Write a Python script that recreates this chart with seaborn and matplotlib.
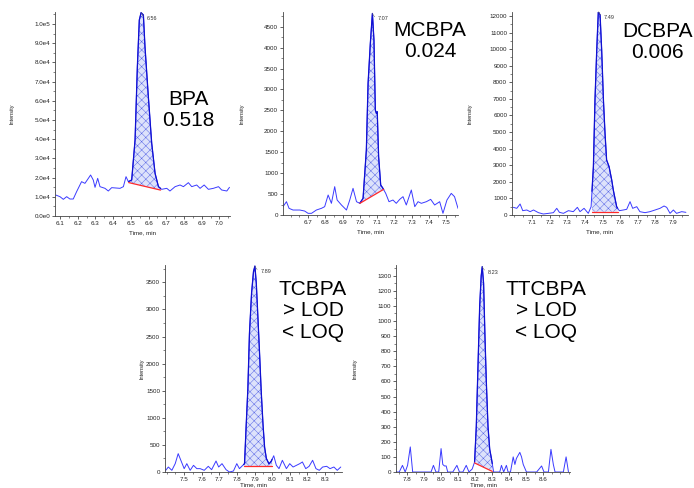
import numpy as np
import pandas as pd
import matplotlib
matplotlib.use('Agg')
import matplotlib.pyplot as plt
from matplotlib.ticker import FuncFormatter, AutoMinorLocator
import seaborn as sns

sns.set_style('ticks')
plt.rcParams['font.family'] = ['Liberation Sans', 'DejaVu Sans']
plt.rcParams['hatch.linewidth'] = 0.35
plt.rcParams['hatch.color'] = '#5a68e6'

# BPA
bpa_t = [6.077, 6.100, 6.119, 6.138, 6.156, 6.175, 6.194, 6.222, 6.241, 6.254, 6.273, 6.288, 6.298,
         6.313, 6.326, 6.354, 6.373, 6.392, 6.439, 6.458, 6.473, 6.486, 6.505, 6.524, 6.537, 6.548,
         6.558, 6.571, 6.580, 6.599, 6.618, 6.637, 6.656, 6.674, 6.703, 6.721, 6.750, 6.778, 6.797,
         6.825, 6.844, 6.872, 6.891, 6.914, 6.938, 6.966, 6.995, 7.013, 7.042, 7.057]
bpa_i = [10900, 10070, 8680, 10070, 8850, 8850, 12670, 17880, 17010, 18750, 21350, 18750, 14930,
         19620, 15280, 14410, 13020, 14760, 14410, 15280, 20490, 17880, 18750, 39580, 77780, 102080,
         105900, 104690, 88190, 62150, 37850, 22220, 15280, 13890, 14410, 13020, 15280, 16150, 15280,
         17360, 15280, 16150, 14410, 16150, 13890, 14410, 15280, 13540, 13020, 14930]

# MCBPA
mcbpa_t = [6.555, 6.575, 6.590, 6.613, 6.652, 6.680, 6.700, 6.720, 6.748, 6.777, 6.796, 6.816, 6.835,
           6.854, 6.868, 6.893, 6.922, 6.941, 6.960, 6.980, 6.999, 7.018, 7.037, 7.047, 7.060, 7.072,
           7.081, 7.089, 7.095, 7.100, 7.108, 7.120, 7.133, 7.149, 7.168, 7.191, 7.210, 7.230, 7.249,
           7.268, 7.297, 7.317, 7.336, 7.355, 7.384, 7.409, 7.432, 7.461, 7.480, 7.503, 7.528, 7.547, 7.567]
mcbpa_i = [199, 318, 159, 119, 119, 95, 40, 40, 119, 159, 199, 478, 279,
           677, 358, 239, 119, 358, 637, 318, 279, 398, 1553, 3145, 4100, 4817,
           4180, 2508, 2428, 2468, 1393, 716, 637, 517, 318, 358, 279, 374, 438,
           239, 597, 199, 318, 279, 318, 374, 239, 318, 40, 358, 517, 438, 159]

# DCBPA
dcbpa_t = [6.994, 7.013, 7.032, 7.047, 7.070, 7.089, 7.108, 7.136, 7.164, 7.193, 7.221, 7.240, 7.255,
           7.278, 7.306, 7.334, 7.357, 7.372, 7.395, 7.419, 7.435, 7.448, 7.457, 7.467, 7.476, 7.486,
           7.495, 7.505, 7.514, 7.523, 7.537, 7.552, 7.561, 7.580, 7.595, 7.618, 7.637, 7.656, 7.671,
           7.694, 7.712, 7.741, 7.769, 7.798, 7.826, 7.849, 7.864, 7.883, 7.902, 7.920, 7.949, 7.973]
dcbpa_i = [462, 402, 663, 261, 302, 201, 302, 141, 60, 100, 141, 402, 161,
           100, 261, 201, 462, 201, 402, 100, 502, 2915, 6935, 9950, 12261, 12060,
           9950, 6935, 4925, 3317, 2915, 2111, 1508, 502, 261, 302, 342, 804, 402,
           502, 201, 141, 201, 302, 402, 543, 462, 100, 302, 100, 201, 161]

# TCBPA
tcbpa_t = [7.395, 7.410, 7.430, 7.449, 7.466, 7.481, 7.500, 7.515, 7.534, 7.553, 7.572, 7.591, 7.614,
           7.637, 7.656, 7.681, 7.696, 7.715, 7.738, 7.757, 7.780, 7.799, 7.814, 7.833, 7.843, 7.852,
           7.862, 7.871, 7.883, 7.894, 7.902, 7.910, 7.919, 7.929, 7.938, 7.948, 7.957, 7.967, 7.982,
           7.995, 8.009, 8.024, 8.039, 8.058, 8.081, 8.100, 8.119, 8.138, 8.157, 8.172, 8.191, 8.210,
           8.230, 8.249, 8.268, 8.287, 8.310, 8.329, 8.351, 8.370, 8.390]
tcbpa_i = [31, 92, 31, 154, 339, 216, 62, 154, 31, 123, 62, 62, 31,
           105, 43, 203, 92, 154, 43, 0, 18, 154, 62, 123, 154, 832,
           1540, 2557, 3300, 3700, 3800, 3480, 2860, 2150, 1480, 880, 460, 250, 150,
           200, 300, 123, 62, 216, 62, 154, 92, 123, 154, 185, 62, 105,
           216, 62, 31, 92, 105, 62, 92, 31, 92]

# TTCBPA
ttcbpa_t = [7.733, 7.753, 7.772, 7.788, 7.802, 7.818, 7.832, 7.851, 7.910, 7.940, 7.954, 7.969, 7.985,
            7.999, 8.009, 8.019, 8.029, 8.038, 8.068, 8.092, 8.107, 8.127, 8.147, 8.163, 8.182, 8.196,
            8.206, 8.216, 8.226, 8.235, 8.241, 8.249, 8.257, 8.265, 8.275, 8.285, 8.295, 8.308, 8.324,
            8.344, 8.354, 8.367, 8.383, 8.393, 8.407, 8.423, 8.433, 8.442, 8.462, 8.472, 8.482, 8.501,
            8.561, 8.590, 8.604, 8.630, 8.645, 8.659, 8.669, 8.718, 8.734, 8.748]
ttcbpa_i = [0, 0, 44, 0, 44, 166, 0, 0, 0, 0, 44, 0, 0,
            155, 50, 40, 40, 0, 0, 44, 0, 0, 44, 0, 20, 66,
            300, 700, 1100, 1300, 1360, 1250, 900, 600, 300, 150, 90, 0, 0,
            0, 44, 0, 44, 0, 0, 100, 50, 90, 130, 100, 50, 0,
            0, 40, 0, 0, 150, 50, 0, 0, 100, 0]

names = ['BPA', 'MCBPA', 'DCBPA', 'TCBPA', 'TTCBPA']
results = ['BPA\n0.518', 'MCBPA\n0.024', 'DCBPA\n0.006', 'TCBPA\n> LOD\n< LOQ', 'TTCBPA\n> LOD\n< LOQ']
apex_labels = ['6.56', '7.07', '7.49', '7.89', '8.23']
# integration window: start, end, baseline at start, baseline at end
peak_start = [6.488, 7.000, 7.440, 7.838, 8.196]
peak_end = [6.668, 7.137, 7.585, 8.000, 8.300]
base_start = [17400, 280, 200, 105, 60]
base_end = [13500, 613, 200, 105, 4]
xticks = [[6.1, 6.2, 6.3, 6.4, 6.5, 6.6, 6.7, 6.8, 6.9, 7.0],
          [6.7, 6.8, 6.9, 7.0, 7.1, 7.2, 7.3, 7.4, 7.5],
          [7.1, 7.2, 7.3, 7.4, 7.5, 7.6, 7.7, 7.8, 7.9],
          [7.5, 7.6, 7.7, 7.8, 7.9, 8.0, 8.1, 8.2, 8.3],
          [7.8, 7.9, 8.0, 8.1, 8.2, 8.3, 8.4, 8.5, 8.6]]
ystep = [10000, 500, 1000, 500, 100]

traces = [(bpa_t, bpa_i), (mcbpa_t, mcbpa_i), (dcbpa_t, dcbpa_i), (tcbpa_t, tcbpa_i), (ttcbpa_t, ttcbpa_i)]

# layout in pixels: left, right, top, bottom
W, H = 694, 488
boxes = [(55, 230, 12, 216), (283, 458, 12, 215), (512, 688, 12, 215),
         (165, 342, 265, 472), (396, 570, 265, 472)]
xlims = [(6.072, 7.06), (6.555, 7.567), (6.986, 7.985), (7.391, 8.397), (7.734, 8.757)]
ylims = [(0, 106250), (0, 4851), (0, 12241), (0, 3820), (0, 1371)]
text_pos = [(188, 110), (430, 41), (657, 42), (313, 311), (546, 311)]
ylab_x = [-0.229, -0.22, -0.222, -0.113, -0.224]
xlab_y = [-0.07, -0.07, -0.07, -0.052, -0.052]


def sci(v, pos):
    if v == 0:
        return '0.0e0'
    e = int(np.floor(np.log10(abs(v))))
    return f'{v / 10 ** e:.1f}e{e}'


fig = plt.figure(figsize=(W / 100, H / 100), dpi=100)

for k in range(5):
    l, r, t, b = boxes[k]
    ax = fig.add_axes([l / W, 1 - b / H, (r - l) / W, (b - t) / H])
    tt, ii = np.array(traces[k][0]), np.array(traces[k][1])
    df = pd.DataFrame({'Time, min': tt, 'Intensity': ii})

    # integrated area
    t0, t1 = peak_start[k], peak_end[k]
    inside = (tt > t0) & (tt < t1)
    ft = np.concatenate([[t0], tt[inside], [t1]])
    fi = np.concatenate([[np.interp(t0, tt, ii)], ii[inside], [np.interp(t1, tt, ii)]])
    fb = np.interp(ft, [t0, t1], [base_start[k], base_end[k]])
    ax.fill_between(ft, fb, fi, facecolor='#dde2fb', edgecolor='#5a68e6', hatch='xxxx', linewidth=0)

    sns.lineplot(data=df, x='Time, min', y='Intensity', ax=ax, color='#3a3aff', lw=0.7,
                 sort=False, estimator=None)
    sns.lineplot(x=ft, y=fi, ax=ax, color='#1010d0', lw=0.9, sort=False, estimator=None)
    sns.lineplot(x=[t0, t1], y=[base_start[k], base_end[k]], ax=ax, color='#ff2a2a', lw=0.9,
                 sort=False, estimator=None)

    ax.set_xlim(*xlims[k])
    ax.set_ylim(*ylims[k])
    ax.set_xticks(xticks[k])
    ax.set_xticklabels([f'{v:.1f}' for v in xticks[k]])
    ax.set_yticks(np.arange(0, ylims[k][1], ystep[k]))
    if k == 0:
        ax.yaxis.set_major_formatter(FuncFormatter(sci))
    ax.xaxis.set_minor_locator(AutoMinorLocator(2))
    ax.yaxis.set_minor_locator(AutoMinorLocator(2))
    ax.tick_params(which='major', length=2, width=0.5, labelsize=4.5, pad=1.5, colors='#222222')
    ax.tick_params(which='minor', length=1.2, width=0.4)
    for s in ['top', 'right']:
        ax.spines[s].set_visible(False)
    for s in ['left', 'bottom']:
        ax.spines[s].set_linewidth(0.6)
        ax.spines[s].set_color('#444444')

    ax.set_xlabel('Time, min', fontsize=4.5, color='#222222')
    ax.set_ylabel('Intensity', fontsize=4, color='#222222')
    ax.xaxis.set_label_coords(0.5, xlab_y[k])
    ax.yaxis.set_label_coords(ylab_x[k], 0.5)

    # apex label
    j = int(np.argmax(ii))
    ax.annotate(apex_labels[k], xy=(tt[j], ii[j]), xytext=(4, -4), textcoords='offset points',
                fontsize=4, color='#333333', va='center',
                arrowprops=dict(arrowstyle='-', color='#666666', lw=0.4,
                                connectionstyle='arc3,rad=-0.4', shrinkA=0, shrinkB=0))

    fig.text(text_pos[k][0] / W, 1 - text_pos[k][1] / H, results[k], fontsize=15, color='black',
             ha='center', va='center', linespacing=1.15)

fig.savefig('out.png', dpi=100)
